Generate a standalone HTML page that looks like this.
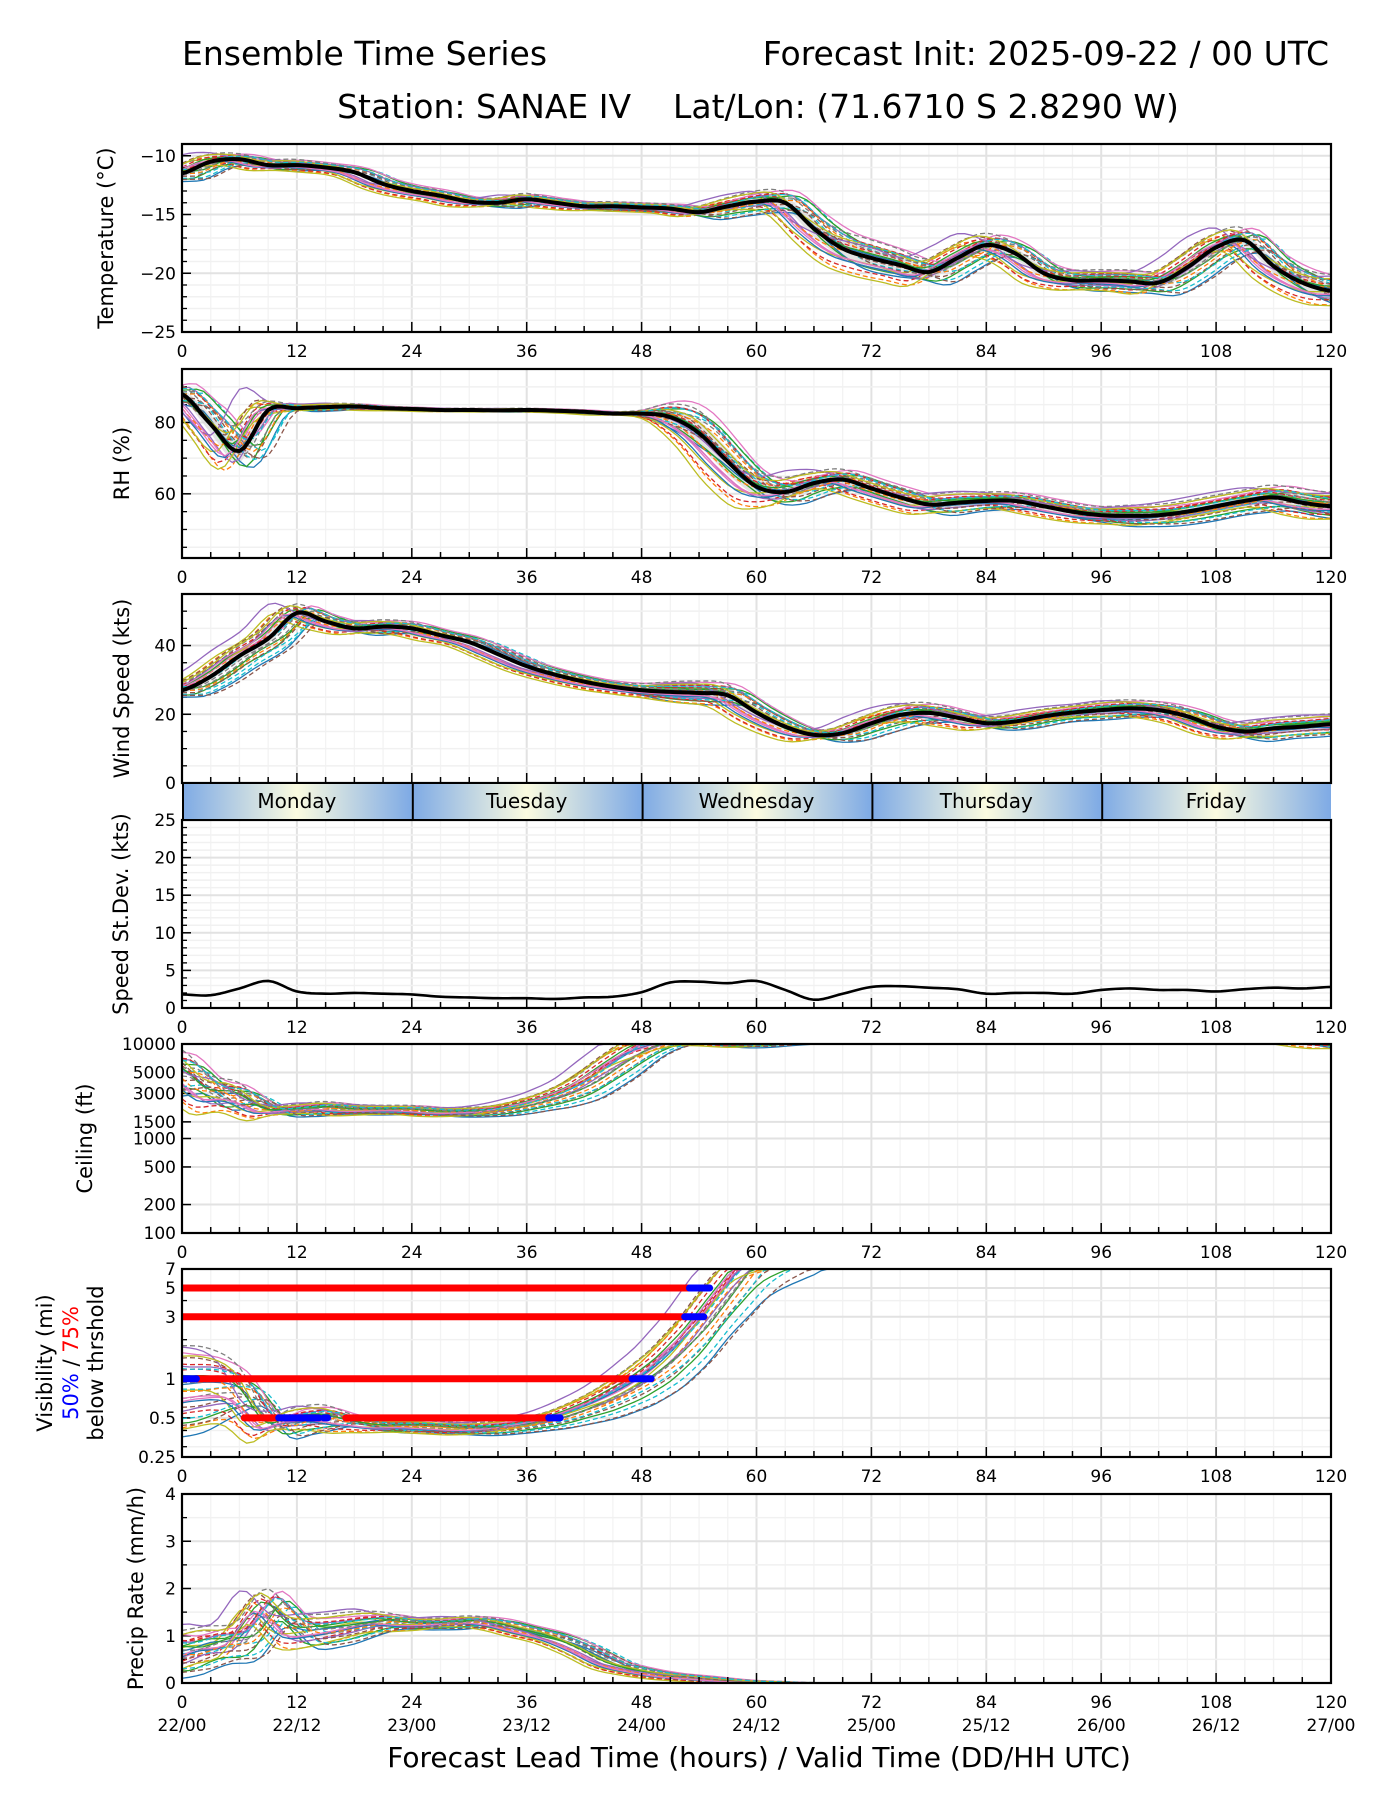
<!DOCTYPE html>
<html><head><meta charset="utf-8">
<style>
html,body{margin:0;padding:0;background:#fff;}
svg{display:block;font-family:"DejaVu Sans","Liberation Sans",sans-serif;}
</style></head>
<body>
<svg id="chart" width="1400" height="1800" viewBox="0 0 1400 1800" xmlns="http://www.w3.org/2000/svg">
<defs>
<linearGradient id="dayGrad" x1="0" x2="1" y1="0" y2="0">
<stop offset="0" stop-color="#7eaae5"/><stop offset="0.5" stop-color="#fbfbe0"/><stop offset="1" stop-color="#7eaae5"/>
</linearGradient>
</defs>
<text x="182" y="65" font-size="33">Ensemble Time Series</text>
<text x="1329" y="65" font-size="33" text-anchor="end">Forecast Init: 2025-09-22 / 00 UTC</text>
<text x="758" y="118" font-size="33" text-anchor="middle" xml:space="preserve">Station: SANAE IV    Lat/Lon: (71.6710 S 2.8290 W)</text>
<g id="plots"></g>
<text x="759" y="1767" font-size="28" text-anchor="middle">Forecast Lead Time (hours) / Valid Time (DD/HH UTC)</text>
</svg>
<script>
// ---- data (3-hourly lead times) ----
const hours = [0,3,6,9,12,15,18,21,24,27,30,33,36,39,42,45,48,51,54,57,60,63,66,69,72,75,78,81,84,87,90,93,96,99,102,105,108,111,114,117,120];
const tempMean = [-11.5,-10.5,-10.3,-10.8,-10.8,-11.0,-11.4,-12.4,-13.0,-13.4,-13.9,-14.0,-13.7,-14.0,-14.3,-14.3,-14.4,-14.5,-14.8,-14.3,-13.9,-14.0,-16.2,-17.9,-18.7,-19.3,-19.9,-18.7,-17.6,-18.3,-20.0,-20.6,-20.6,-20.7,-20.8,-19.5,-17.8,-17.2,-19.4,-20.8,-21.5];
const tempSpread = [0.7,0.6,0.5,0.5,0.5,0.4,0.4,0.5,0.5,0.5,0.4,0.4,0.5,0.4,0.4,0.4,0.4,0.4,0.5,0.7,0.9,1.0,1.4,1.6,1.6,1.4,1.1,1.1,1.0,1.0,0.9,0.9,0.9,1.0,1.0,1.1,1.1,1.1,1.2,1.3,1.4];
const rhMean = [88,79.5,72,83.5,84,84.3,84.5,84,83.8,83.5,83.5,83.4,83.5,83.3,83,82.5,82.5,81.5,77,69,62,60.5,63,64,61.5,59,57,57.5,58,58,56.5,55,54,53.8,54,55,56.5,58,59,57.5,56.5];
const rhSpread = [3,5,7,2,1,1,0.8,0.6,0.5,0.5,0.5,0.5,0.5,0.5,0.5,0.5,1,4,7,7,5,4,3,3,3,3,3,3,2.5,2.5,2.5,2.5,2.5,3,3,3,3,3,3.5,4,4];
const windMean = [27,31,37,42,49.5,47,45,45.5,45,43,41,37.5,34,31.5,29.5,28,27,26.5,26.2,25.5,20.5,16.4,14,14.5,17.4,19.8,20.4,19,17.4,17.9,19.4,20.5,21.2,21.7,21.2,19.4,16.4,15,15.9,16.4,17.1];
const windSpread = [2,2,2.5,3,2.5,2,2,2,2,1.5,1.5,1.5,1.5,1.5,1.5,1.5,2,3,3.5,3.5,3,2.5,1.5,2,2.5,3,3,2.5,2,2,2,2,2.5,2.5,2.5,2.5,2.5,2.5,3,3,3];
const sdMean = [1.8,1.7,2.6,3.6,2.2,1.9,2.0,1.9,1.8,1.5,1.4,1.3,1.3,1.2,1.4,1.5,2.1,3.4,3.5,3.3,3.6,2.4,1.1,1.9,2.8,2.9,2.7,2.5,1.9,2.0,2.0,1.9,2.4,2.6,2.4,2.4,2.2,2.5,2.7,2.6,2.8];
const ceilMean = [5000,3000,2800,2000,2000,2100,2000,2000,2000,1900,1900,2000,2300,2800,3800,6000,9000,11000,11000,10500,10500,11000,11500,11500,12000,20000,20000,20000,20000,20000,20000,20000,20000,20000,20000,20000,20000,20000,14000,12000,11000];
const ceilSpreadLog = [0.25,0.2,0.15,0.06,0.06,0.07,0.06,0.05,0.05,0.05,0.05,0.05,0.06,0.08,0.12,0.15,0.15,0.08,0.05,0.06,0.06,0.05,0.05,0.05,0.05,0.05,0.05,0.05,0.05,0.05,0.05,0.05,0.05,0.05,0.05,0.05,0.05,0.05,0.1,0.1,0.1];
const visMean = [0.8,0.85,0.8,0.45,0.48,0.5,0.46,0.43,0.43,0.42,0.41,0.42,0.45,0.5,0.6,0.75,1.0,1.5,2.6,5,9,12,14,20,20,20,20,20,20,20,20,20,20,20,20,20,20,20,20,20,20];
const visSpreadLog = [0.35,0.3,0.2,0.08,0.1,0.1,0.06,0.05,0.05,0.05,0.05,0.05,0.05,0.06,0.08,0.12,0.15,0.18,0.2,0.2,0.25,0.3,0.3,0.2,0.2,0.2,0.2,0.2,0.2,0.2,0.2,0.2,0.2,0.2,0.2,0.2,0.2,0.2,0.2,0.2,0.2];
const precipMean = [0.6,0.8,0.9,1.6,1.1,1.1,1.2,1.3,1.25,1.25,1.3,1.25,1.1,0.95,0.7,0.4,0.25,0.15,0.1,0.05,0.02,0.01,0,0,0,0,0,0,0,0,0,0,0,0,0,0,0,0,0,0,0];
const precipSpread = [0.5,0.4,0.4,0.4,0.4,0.35,0.3,0.2,0.15,0.12,0.12,0.12,0.12,0.12,0.12,0.1,0.08,0.07,0.06,0.05,0.03,0.02,0,0,0,0,0,0,0,0,0,0,0,0,0,0,0,0,0,0,0];
// visibility threshold exceedance segments: [threshold, startHour, endHour]
const visRed = [[5,0,53],[3,0,52.5],[1,1.5,47],[0.5,6.5,14.3],[0.5,17.1,38.3]];
const visBlue = [[5,53,55.1],[3,52.5,54.5],[1,0,1.5],[1,47,49],[0.5,10.1,14.3],[0.5,14.8,15.2],[0.5,38.3,39.5]];
const xTicks = [0,12,24,36,48,60,72,84,96,108,120];
const dateLabels = ["22/00","22/12","23/00","23/12","24/00","24/12","25/00","25/12","26/00","26/12","27/00"];
const dayNames = ["Monday","Tuesday","Wednesday","Thursday","Friday"];
// ensemble member styling structure
const memberFrac = [-1,-0.85,-0.7,-0.55,-0.45,-0.35,-0.25,-0.15,-0.05,0.05,0.15,0.25,0.35,0.45,0.55,0.7,0.85,1,-0.9,-0.6,-0.3,0,0.3,0.6,0.9,-0.75,-0.2,0.2,0.75,0.5];
const memberShift = [-2,1.5,-1,2,0.5,-1.5,1,-0.5,2.5,-2.5,0,1.8,-1.8,0.8,-0.8,1.2,-1.2,0.3,2.2,-2.2,1.6,-1.6,0.6,-0.6,2.8,-2.8,1.4,-1.4,0.9,-0.9];
const tab10 = ["#1f77b4","#ff7f0e","#2ca02c","#d62728","#9467bd","#8c564b","#e377c2","#7f7f7f","#bcbd22","#17becf"];

const X0 = 182, X1 = 1331;
const NS = "http://www.w3.org/2000/svg";
const root = document.getElementById("plots");
function xs(h){ return X0 + (h/120)*(X1-X0); }
function mk(tag, attrs, parent){ const e=document.createElementNS(NS,tag); for(const k in attrs) e.setAttribute(k,attrs[k]); (parent||root).appendChild(e); return e; }
function interp(arr,h){
  const n=arr.length; if(h<=0) return arr[0]; if(h>=120) return arr[n-1];
  const i=Math.floor(h/3), t=(h-i*3)/3;
  const p0=arr[Math.max(i-1,0)], p1=arr[i], p2=arr[Math.min(i+1,n-1)], p3=arr[Math.min(i+2,n-1)];
  return 0.5*((2*p1)+(-p0+p2)*t+(2*p0-5*p1+4*p2-p3)*t*t+(-p0+3*p1-3*p2+p3)*t*t*t);
}

function panel(cfg){
  const g = mk("g",{});
  
  
  const top=cfg.top, bot=cfg.bot;
  const tr = cfg.log ? (v=>Math.log10(v)) : (v=>v);
  const ys = v => bot - (tr(v)-tr(cfg.min))/(tr(cfg.max)-tr(cfg.min))*(bot-top);
  const clip = "clip-"+cfg.name;
  const cp = mk("clipPath",{id:clip},g); mk("rect",{x:X0,y:top,width:X1-X0,height:bot-top},cp);
  for(let h=3;h<120;h+=3){ mk("line",{x1:xs(h),x2:xs(h),y1:top,y2:bot,stroke:h%12===0?"#e2e2e2":"#f3f3f3","stroke-width":h%12===0?2:1.3},g); }
  (cfg.minor||[]).forEach(v=>{ const y=ys(v); mk("line",{x1:X0,x2:X1,y1:y,y2:y,stroke:"#f1f1f1","stroke-width":1.5},g); mk("line",{x1:X0,x2:X0+5,y1:y,y2:y,stroke:"#000","stroke-width":1.3},g); });
  cfg.ticks.forEach((v,i)=>{ const y=ys(v); mk("line",{x1:X0,x2:X1,y1:y,y2:y,stroke:"#e2e2e2","stroke-width":2},g); mk("line",{x1:X0,x2:X0+9,y1:y,y2:y,stroke:"#000","stroke-width":1.5},g);
    const t=mk("text",{x:X0-6,y:y+6,"font-size":17,"text-anchor":"end"},g); t.textContent=cfg.tickLabels[i];
    
     });
  const dg = mk("g",{"clip-path":"url(#"+clip+")"},g);
  if(cfg.mean){
    const val = (h,frac,sh)=>{ if(cfg.log){ return Math.pow(10, Math.log10(Math.max(interp(cfg.mean,h+sh),1e-3)) + frac*interp(cfg.spread,h)); } return interp(cfg.mean,h+sh)+frac*interp(cfg.spread,h); };
    const cl = v=>Math.max(cfg.log?cfg.min*0.98:cfg.min-0.02*(cfg.max-cfg.min), Math.min(cfg.max, v));
    if(cfg.band){
      let up=[],dn=[];
      for(let h=0;h<=120;h+=1){ up.push(xs(h)+","+ys(cl(val(h,0.5,0)))); dn.unshift(xs(h)+","+ys(cl(val(h,-0.5,0)))); }
      const b=mk("polygon",{points:up.concat(dn).join(" "),fill:"#d8d8d8","fill-opacity":0.7},dg);
      
      
    }
    memberFrac.forEach((fr,k)=>{
      let pts=[];
      for(let h=0;h<=120;h+=0.75){ pts.push(xs(h)+","+ys(cl(val(h,fr,memberShift[k])))); }
      const p=mk("polyline",{points:pts.join(" "),fill:"none",stroke:tab10[k%10],"stroke-width":1.3,"stroke-dasharray":k%2?"5,3":"none"},dg);
      
      
    });
    if(cfg.meanLine){
      let pts=[]; for(let h=0;h<=120;h+=0.5) pts.push(xs(h)+","+ys(interp(cfg.mean,h)));
      const m=mk("polyline",{points:pts.join(" "),fill:"none",stroke:"#000","stroke-width":4,"stroke-linejoin":"round"},dg);
      
      
    }
  }
  if(cfg.line){
    let pts=[]; for(let h=0;h<=120;h+=0.5) pts.push(xs(h)+","+ys(interp(cfg.line,h)));
    const m=mk("polyline",{points:pts.join(" "),fill:"none",stroke:"#000","stroke-width":2.6,"stroke-linejoin":"round"},dg);
    
    
  }
  if(cfg.extra) cfg.extra(dg,ys);
  for(let h=3;h<120;h+=3){ mk("line",{x1:xs(h),x2:xs(h),y1:bot,y2:bot-(h%12===0?10:6),stroke:"#000","stroke-width":1.5},g); }
  if(!cfg.noXLabels){
    xTicks.forEach(h=>{ const t=mk("text",{x:xs(h),y:bot+25,"font-size":17,"text-anchor":"middle"},g); t.textContent=String(h);
      
       });
  }
  const fr=mk("rect",{x:X0,y:top,width:X1-X0,height:bot-top,fill:"none",stroke:"#000","stroke-width":2.2},g);
  
  
  if(cfg.ylabel){
    const cy=(top+bot)/2;
    const t=mk("text",{x:cfg.lx,y:cy,"font-size":21,"text-anchor":"middle",transform:"rotate(-90 "+cfg.lx+" "+cy+")"},g);
    t.textContent=cfg.ylabel;
    
    
  }
  return {g,ys};
}

panel({name:"temperature",top:144,bot:332,min:-25,max:-9,ticks:[-10,-15,-20,-25],tickLabels:["\u221210","\u221215","\u221220","\u221225"],
  minor:[-11,-12,-13,-14,-16,-17,-18,-19,-21,-22,-23,-24],mean:tempMean,spread:tempSpread,band:true,meanLine:true,ylabel:"Temperature (\u00b0C)",lx:113});
panel({name:"rh",top:369,bot:558,min:42,max:95,ticks:[60,80],tickLabels:["60","80"],minor:[45,50,55,65,70,75,85,90],
  mean:rhMean,spread:rhSpread,band:true,meanLine:true,ylabel:"RH (%)",lx:129});
panel({name:"wind",top:594,bot:783,min:0,max:55,ticks:[0,20,40],tickLabels:["0","20","40"],minor:[5,10,15,25,30,35,45,50],
  mean:windMean,spread:windSpread,band:true,meanLine:true,ylabel:"Wind Speed (kts)",lx:129,noXLabels:true});
panel({name:"speed-stdev",top:820,bot:1008,min:0,max:25,ticks:[0,5,10,15,20,25],tickLabels:["0","5","10","15","20","25"],
  minor:[1,2,3,4,6,7,8,9,11,12,13,14,16,17,18,19,21,22,23,24],line:sdMean,ylabel:"Speed St.Dev. (kts)",lx:128});
panel({name:"ceiling",top:1044,bot:1233,min:100,max:10000,log:true,ticks:[100,200,500,1000,1500,3000,5000,10000],
  tickLabels:["100","200","500","1000","1500","3000","5000","10000"],mean:ceilMean,spread:ceilSpreadLog,ylabel:"Ceiling (ft)",lx:92});
panel({name:"visibility",top:1269,bot:1457,min:0.25,max:7,log:true,ticks:[0.25,0.5,1,3,5,7],tickLabels:["0.25","0.5","1","3","5","7"],
  minor:[0.3,0.4,2,4],mean:visMean,spread:visSpreadLog,
  extra:(dg,ys)=>{
    visRed.forEach(s=>{ const l=mk("line",{x1:xs(s[1]),x2:xs(s[2]),y1:ys(s[0]),y2:ys(s[0]),stroke:"#ff0000","stroke-width":7,"stroke-linecap":"round"},dg);
      
       });
    visBlue.forEach(s=>{ const l=mk("line",{x1:xs(s[1]),x2:xs(s[2]),y1:ys(s[0]),y2:ys(s[0]),stroke:"#0000ff","stroke-width":7,"stroke-linecap":"round"},dg);
      
       });
  }});
panel({name:"precip",top:1494,bot:1683,min:0,max:4,ticks:[0,1,2,3,4],tickLabels:["0","1","2","3","4"],minor:[0.5,1.5,2.5,3.5],
  mean:precipMean,spread:precipSpread,ylabel:"Precip Rate (mm/h)",lx:143});

(function(){
  const cy=1363;
  const l1=mk("text",{x:52,y:cy,"font-size":21,"text-anchor":"middle",transform:"rotate(-90 52 "+cy+")"});
  l1.textContent="Visibility (mi)";
  
  
  const e=mk("text",{x:78,y:cy,"font-size":21,"text-anchor":"middle",transform:"rotate(-90 78 "+cy+")"});
  e.innerHTML='<tspan fill="#0000ff">50%</tspan> / <tspan fill="#ff0000">75%</tspan>';
  
  
  const l3=mk("text",{x:103,y:cy,"font-size":21,"text-anchor":"middle",transform:"rotate(-90 103 "+cy+")"});
  l3.textContent="below thrshold";
  
  
})();

xTicks.forEach((h,i)=>{ const t=mk("text",{x:xs(h),y:1731,"font-size":17,"text-anchor":"middle"}); t.textContent=dateLabels[i];
  
   });

dayNames.forEach((d,i)=>{
  const r=mk("rect",{x:xs(i*24),y:784,width:xs(24)-xs(0),height:35,fill:"url(#dayGrad)"});
  
  
  mk("line",{x1:xs(i*24)+1,x2:xs(i*24)+1,y1:784,y2:819,stroke:"#000","stroke-width":2});
  const t=mk("text",{x:xs(i*24+12),y:808,"font-size":20,"text-anchor":"middle"}); t.textContent=d;
  
  
});
</script>
</body></html>
